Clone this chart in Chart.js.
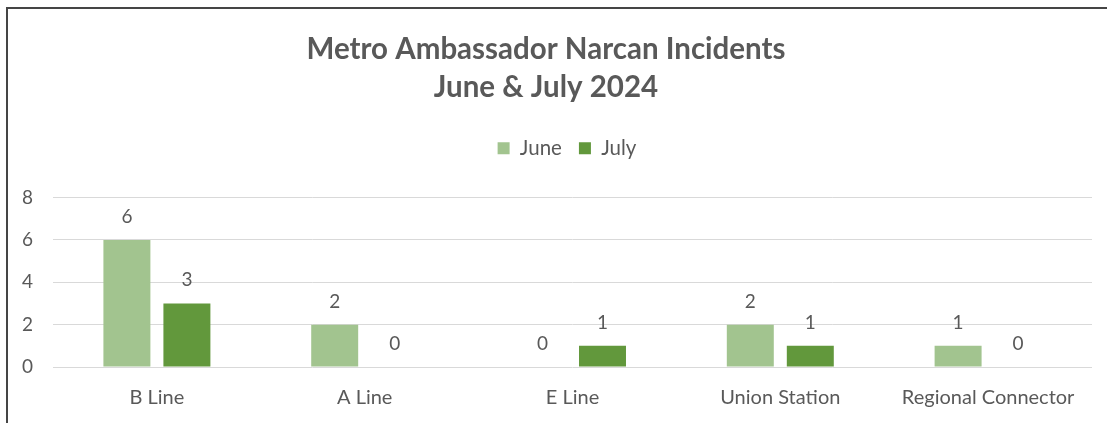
<!DOCTYPE html>
<html>
<head>
<meta charset="utf-8">
<script src="https://cdn.jsdelivr.net/npm/chart.js@4"></script>
<style>
  html, body { margin: 0; padding: 0; background: #ffffff; }
  #wrap { position: relative; width: 1107px; height: 423px; overflow: hidden; background: #fff; }
  #frame { position: absolute; left: 6px; top: 7px; width: 1101px; height: 416px;
           border-top: 2px solid #454545; border-left: 2px solid #454545; box-sizing: border-box; pointer-events: none; }
  canvas { position: absolute; left: 0; top: 0; }
</style>
</head>
<body>
<div id="wrap">
  <canvas id="c" width="1107" height="423"></canvas>
  <div id="frame"></div>
</div>
<script>
const categories = ["B Line", "A Line", "E Line", "Union Station", "Regional Connector"];
const juneValues = [6, 2, 0, 2, 1];
const julyValues = [3, 0, 1, 1, 0];
const seriesNames = ["June", "July"];
const titleLines = ["Metro Ambassador Narcan Incidents", "June & July 2024"];
const yTickMax = 8;
const yTickStep = 2;

const FONT = "Lato, 'Open Sans', sans-serif";
const TEXT = "#595959";

const dataLabels = {
  id: "dataLabels",
  afterDatasetsDraw(chart) {
    const ctx = chart.ctx;
    ctx.save();
    ctx.font = "19px " + FONT;
    ctx.fillStyle = TEXT;
    ctx.textAlign = "center";
    ctx.textBaseline = "alphabetic";
    chart.data.datasets.forEach((ds, i) => {
      const meta = chart.getDatasetMeta(i);
      meta.data.forEach((el, j) => {
        ctx.fillText(String(ds.data[j]), el.x, el.y - 17);
      });
    });
    ctx.restore();
  }
};

const legendMargin = {
  id: "legendMargin",
  beforeInit(chart) {
    const orig = chart.legend.fit;
    chart.legend.fit = function () {
      orig.bind(chart.legend)();
      this.height += 29;
    };
  },
  afterLayout(chart) {
    chart.legend.left += 21;
    chart.legend.right += 21;
  }
};

new Chart(document.getElementById("c"), {
  type: "bar",
  data: {
    labels: categories,
    datasets: [
      { label: seriesNames[0], data: juneValues, backgroundColor: "#A2C48F", borderWidth: 0,
        categoryPercentage: 0.5775, barPercentage: 0.783 },
      { label: seriesNames[1], data: julyValues, backgroundColor: "#62983C", borderWidth: 0,
        categoryPercentage: 0.5775, barPercentage: 0.783 }
    ]
  },
  options: {
    responsive: false,
    animation: false,
    devicePixelRatio: 1,
    layout: { padding: { left: 0, right: 15, top: 0, bottom: 0 } },
    plugins: {
      title: {
        display: true,
        text: titleLines,
        color: TEXT,
        font: { family: FONT, size: 29.5, weight: "bold", lineHeight: 1.29 },
        padding: { top: 30, bottom: 15 }
      },
      legend: {
        display: true,
        position: "top",
        labels: {
          color: TEXT,
          font: { family: FONT, size: 20.5 },
          boxWidth: 12,
          boxHeight: 12,
          padding: 17
        }
      },
      tooltip: { enabled: false }
    },
    scales: {
      x: {
        grid: { display: false, drawTicks: false },
        border: { display: false },
        ticks: { color: TEXT, font: { family: FONT, size: 20 }, padding: 19, maxRotation: 0 },
        afterFit(s) { s.height = 56; }
      },
      y: {
        min: 0,
        max: yTickMax,
        grid: { color: "#D9D9D9", lineWidth: 1, drawTicks: false },
        border: { display: false },
        ticks: { stepSize: yTickStep, color: TEXT, font: { family: FONT, size: 19 }, padding: 20 },
        afterFit(s) { s.width = 53; }
      }
    }
  },
  plugins: [dataLabels, legendMargin]
});
</script>
</body>
</html>
